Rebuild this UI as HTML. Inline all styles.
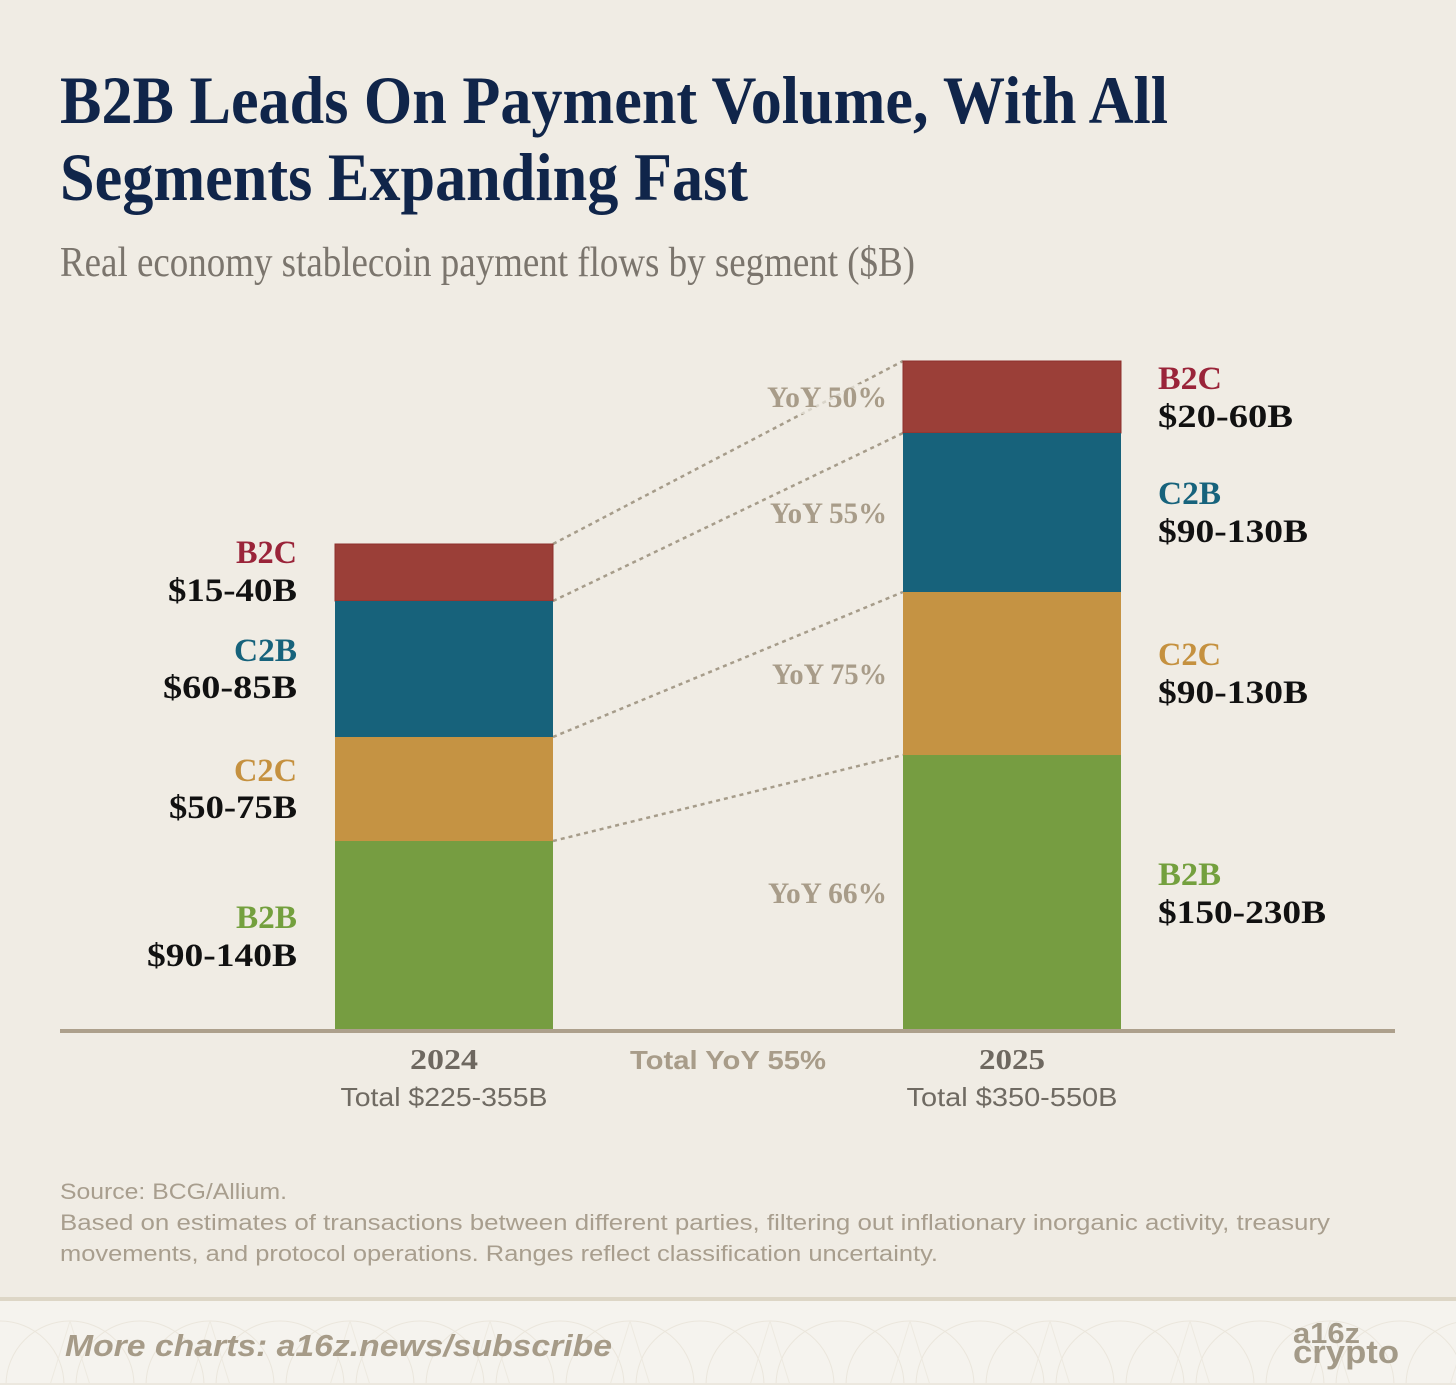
<!DOCTYPE html>
<html><head><meta charset="utf-8"><style>
html,body{margin:0;padding:0;background:#f0ece4;}
svg{display:block;}
</style></head><body>
<svg width="1456" height="1385" viewBox="0 0 1456 1385" xmlns="http://www.w3.org/2000/svg">
<defs>
<pattern id="arcs" x="0" y="1301" width="140" height="84" patternUnits="userSpaceOnUse">
<circle cx="70" cy="84" r="64" fill="none" stroke="#e8e3d8" stroke-width="1"/>
<circle cx="0" cy="84" r="64" fill="none" stroke="#e8e3d8" stroke-width="1"/>
<circle cx="140" cy="84" r="64" fill="none" stroke="#e8e3d8" stroke-width="1"/>
<line x1="70" y1="20" x2="50" y2="84" stroke="#ebe7dd" stroke-width="1"/>
<line x1="70" y1="20" x2="90" y2="84" stroke="#ebe7dd" stroke-width="1"/>
</pattern>
</defs>
<rect x="0" y="0" width="1456" height="1385" fill="#f0ece4"/>

<!-- Title -->
<g font-family="'Liberation Serif', serif" font-weight="bold" fill="#10254a" font-size="68">
<text x="60" y="123" textLength="1108" lengthAdjust="spacingAndGlyphs">B2B Leads On Payment Volume, With All</text>
<text x="60" y="200" textLength="688" lengthAdjust="spacingAndGlyphs">Segments Expanding Fast</text>
</g>
<text x="60" y="276" font-family="'Liberation Serif', serif" font-size="42" fill="#7b756d" textLength="855" lengthAdjust="spacingAndGlyphs">Real economy stablecoin payment flows by segment ($B)</text>

<!-- Dotted connector lines -->
<g stroke="#a69c8a" stroke-width="2.5" stroke-dasharray="4 4" fill="none">
<line x1="553" y1="544" x2="903" y2="361"/>
<line x1="553" y1="601" x2="903" y2="433"/>
<line x1="553" y1="737" x2="903" y2="592"/>
<line x1="553" y1="841" x2="903" y2="755"/>
</g>
<!-- halo behind YoY 50% -->
<rect x="780" y="384" width="100" height="30" fill="#f0ece4" opacity="0.7"/>

<!-- Bars 2024 -->
<rect x="335" y="544" width="218" height="57" fill="#9b3f38" stroke="#8e2f2b" stroke-width="1"/>
<rect x="335" y="601" width="218" height="136" fill="#17627b"/>
<rect x="335" y="737" width="218" height="104" fill="#c59343"/>
<rect x="335" y="841" width="218" height="189" fill="#769d41"/>
<!-- Bars 2025 -->
<rect x="903" y="361" width="218" height="72" fill="#9b3f38" stroke="#8e2f2b" stroke-width="1"/>
<rect x="903" y="433" width="218" height="159" fill="#17627b"/>
<rect x="903" y="592" width="218" height="163" fill="#c59343"/>
<rect x="903" y="755" width="218" height="275" fill="#769d41"/>

<!-- Axis -->
<rect x="60" y="1029" width="1335" height="4" fill="#ada08c"/>

<!-- Left labels -->
<g font-family="'Liberation Serif', serif" font-weight="bold" font-size="33" text-anchor="end">
<text x="297" y="563" fill="#9a2439" textLength="61" lengthAdjust="spacingAndGlyphs">B2C</text>
<text x="297" y="601" fill="#111111" textLength="129" lengthAdjust="spacingAndGlyphs">$15-40B</text>
<text x="297" y="661" fill="#17637c" textLength="63" lengthAdjust="spacingAndGlyphs">C2B</text>
<text x="297" y="698" fill="#111111" textLength="134" lengthAdjust="spacingAndGlyphs">$60-85B</text>
<text x="297" y="781" fill="#c5913f" textLength="63" lengthAdjust="spacingAndGlyphs">C2C</text>
<text x="297" y="818" fill="#111111" textLength="128" lengthAdjust="spacingAndGlyphs">$50-75B</text>
<text x="297" y="928" fill="#74a03e" textLength="61" lengthAdjust="spacingAndGlyphs">B2B</text>
<text x="297" y="966" fill="#111111" textLength="150" lengthAdjust="spacingAndGlyphs">$90-140B</text>
</g>

<!-- Right labels -->
<g font-family="'Liberation Serif', serif" font-weight="bold" font-size="33">
<text x="1158" y="389" fill="#9a2439" textLength="64" lengthAdjust="spacingAndGlyphs">B2C</text>
<text x="1158" y="427" fill="#111111" textLength="135" lengthAdjust="spacingAndGlyphs">$20-60B</text>
<text x="1158" y="504" fill="#17637c" textLength="63" lengthAdjust="spacingAndGlyphs">C2B</text>
<text x="1158" y="542" fill="#111111" textLength="150" lengthAdjust="spacingAndGlyphs">$90-130B</text>
<text x="1158" y="665" fill="#c5913f" textLength="63" lengthAdjust="spacingAndGlyphs">C2C</text>
<text x="1158" y="703" fill="#111111" textLength="150" lengthAdjust="spacingAndGlyphs">$90-130B</text>
<text x="1158" y="885" fill="#74a03e" textLength="63" lengthAdjust="spacingAndGlyphs">B2B</text>
<text x="1158" y="923" fill="#111111" textLength="168" lengthAdjust="spacingAndGlyphs">$150-230B</text>
</g>

<!-- YoY labels -->
<g font-family="'Liberation Serif', serif" font-weight="bold" font-size="30" fill="#a89c89" text-anchor="end">
<text x="887" y="407" textLength="120" lengthAdjust="spacingAndGlyphs">YoY 50%</text>
<text x="887" y="523" textLength="117" lengthAdjust="spacingAndGlyphs">YoY 55%</text>
<text x="887" y="684" textLength="115" lengthAdjust="spacingAndGlyphs">YoY 75%</text>
<text x="887" y="903" textLength="119" lengthAdjust="spacingAndGlyphs">YoY 66%</text>
</g>

<!-- Axis labels -->
<g text-anchor="middle">
<text x="444" y="1069" font-family="'Liberation Serif', serif" font-weight="bold" font-size="28" fill="#6e6860" textLength="68" lengthAdjust="spacingAndGlyphs">2024</text>
<text x="444" y="1106" font-family="'Liberation Sans', sans-serif" font-size="26" fill="#6f6a62" textLength="207" lengthAdjust="spacingAndGlyphs">Total $225-355B</text>
<text x="728" y="1069" font-family="'Liberation Sans', sans-serif" font-weight="bold" font-size="26" fill="#a89c89" textLength="196" lengthAdjust="spacingAndGlyphs">Total YoY 55%</text>
<text x="1012" y="1069" font-family="'Liberation Serif', serif" font-weight="bold" font-size="28" fill="#6e6860" textLength="66" lengthAdjust="spacingAndGlyphs">2025</text>
<text x="1012" y="1106" font-family="'Liberation Sans', sans-serif" font-size="26" fill="#6f6a62" textLength="211" lengthAdjust="spacingAndGlyphs">Total $350-550B</text>
</g>

<!-- Footnotes -->
<g font-family="'Liberation Sans', sans-serif" font-size="22" fill="#a89e8e">
<text x="60" y="1199" textLength="227" lengthAdjust="spacingAndGlyphs">Source: BCG/Allium.</text>
<text x="60" y="1230" textLength="1270" lengthAdjust="spacingAndGlyphs">Based on estimates of transactions between different parties, filtering out inflationary inorganic activity, treasury</text>
<text x="60" y="1261" textLength="878" lengthAdjust="spacingAndGlyphs">movements, and protocol operations. Ranges reflect classification uncertainty.</text>
</g>

<!-- Footer band -->
<rect x="0" y="1297" width="1456" height="4" fill="#ddd6c6"/>
<rect x="0" y="1301" width="1456" height="84" fill="#f5f3ee"/>
<rect x="0" y="1301" width="1456" height="82" fill="url(#arcs)" opacity="0.8"/>
<rect x="0" y="1383" width="1456" height="2" fill="#ece8df"/>
<text x="65" y="1356" font-family="'Liberation Sans', sans-serif" font-style="italic" font-weight="bold" font-size="31" fill="#a69b88" textLength="547" lengthAdjust="spacingAndGlyphs">More charts: a16z.news/subscribe</text>
<g font-family="'Liberation Sans', sans-serif" font-weight="bold" fill="#a39a88">
<text x="1293" y="1343" font-size="29" textLength="67" lengthAdjust="spacingAndGlyphs">a16z</text>
<text x="1293" y="1363" font-size="32" textLength="106" lengthAdjust="spacingAndGlyphs">crypto</text>
</g>
</svg>
</body></html>
